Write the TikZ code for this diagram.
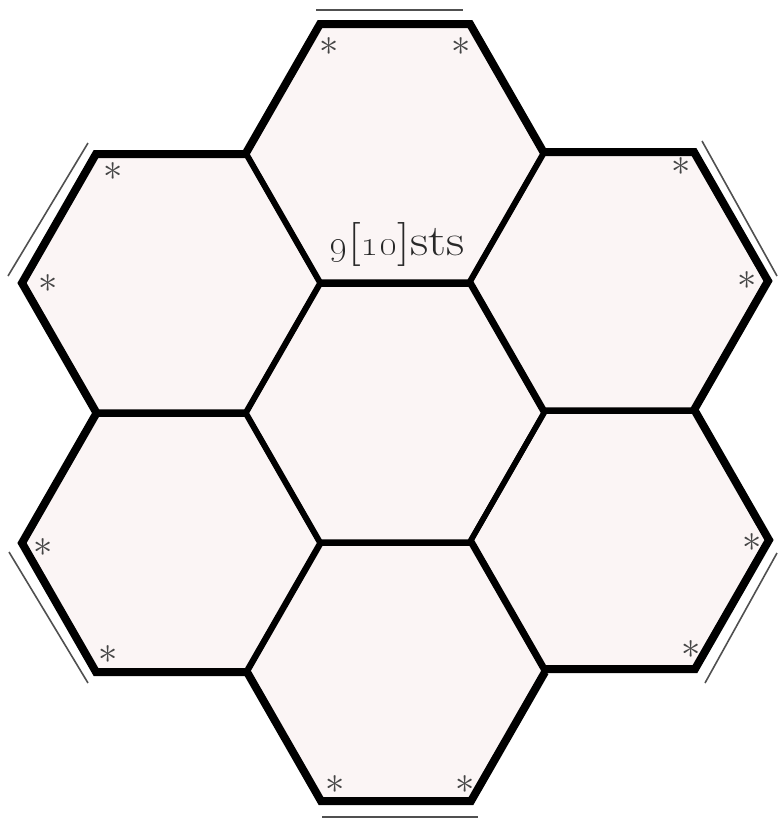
\documentclass[tikz,border=0pt]{standalone}
\usepackage{graphicx}
\usetikzlibrary{calc}
\definecolor{hexpink}{RGB}{251,245,245}
\definecolor{guidegray}{RGB}{80,80,80}
\definecolor{stargray}{RGB}{70,70,70}
\definecolor{labelgray}{RGB}{40,40,40}
\newcommand{\bigstarmark}{\scalebox{1.55}{$\ast$}}
\begin{document}
\begin{tikzpicture}[x=1pt,y=-1pt,
  innerline/.style={draw=black,line width=5.5pt,line join=miter},
  outerline/.style={draw=black,line width=8pt,line join=miter},
  guideline/.style={draw=guidegray,line width=1.6pt},
  starmark/.style={text=stargray,font=\fontsize{24.88}{25}\selectfont,inner sep=0pt},
  labeltext/.style={text=labelgray,font=\fontsize{44}{44}\selectfont,inner sep=0pt,xscale=1.15}]
\useasboundingbox (0,0) rectangle (779,820);
% hexagon vertices: 0 right, 1 top-right, 2 top-left, 3 left, 4 bottom-left, 5 bottom-right
\foreach \n/\cx/\cy in {C/395/413, T/395/153, B/396/672, UL/171/283, UR/619/281, LL/171/543, LR/620/540}{
  \coordinate (\n0) at (\cx+149,\cy);
  \coordinate (\n1) at (\cx+75,\cy-129);
  \coordinate (\n2) at (\cx-75,\cy-129);
  \coordinate (\n3) at (\cx-149,\cy);
  \coordinate (\n4) at (\cx-75,\cy+129);
  \coordinate (\n5) at (\cx+75,\cy+129);
}
\foreach \n in {C,T,B,UL,UR,LL,LR}{
  \fill[hexpink] (\n0)--(\n1)--(\n2)--(\n3)--(\n4)--(\n5)--cycle;
}
\foreach \n in {C,T,B,UL,UR,LL,LR}{
  \draw[innerline] (\n0)--(\n1)--(\n2)--(\n3)--(\n4)--(\n5)--cycle;
}
% outer boundary
\draw[outerline] (T3)--(T2)--(T1)--(T0);
\draw[outerline] (UL1)--(UL2)--(UL3)--(UL4);
\draw[outerline] (UR2)--(UR1)--(UR0)--(UR5);
\draw[outerline] (LL2)--(LL3)--(LL4)--(LL5);
\draw[outerline] (LR1)--(LR0)--(LR5)--(LR4);
\draw[outerline] (B3)--(B4)--(B5)--(B0);
% guide lines
\coordinate (gT1) at (316,10);  \coordinate (gT2) at (463,10);
\coordinate (gUL1) at (88,143); \coordinate (gUL2) at (8,276);
\coordinate (gUR1) at (702,141); \coordinate (gUR2) at (777,276);
\coordinate (gLL1) at (9,552);  \coordinate (gLL2) at (88,683);
\coordinate (gLR1) at (777,553); \coordinate (gLR2) at (705,683);
\coordinate (gB1) at (322,817); \coordinate (gB2) at (478,817);
\foreach \g in {T,UL,UR,LL,LR,B}{
  \draw[guideline] (g\g1) -- (g\g2);
}
% asterisks
\foreach \i/\x/\y in {1/329/47, 2/461/47, 3/113/172, 4/48/284, 5/681/167, 6/747/281,
                     7/43/548, 8/108/655, 9/752/543, 10/691/650, 11/335/785, 12/465/785}{
  \node[starmark] (s\i) at (\x,\y) {\bigstarmark};
}
\node[labeltext,anchor=base] (lbl) at (397,255) {\oldstylenums{9}[\oldstylenums{10}]sts};
\end{tikzpicture}
\end{document}
